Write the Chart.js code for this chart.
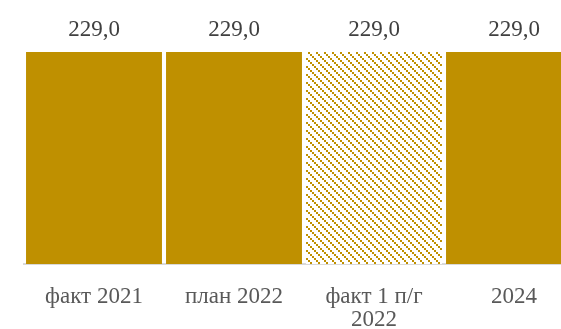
<!DOCTYPE html>
<html>
<head>
<meta charset="utf-8">
<script src="https://cdn.jsdelivr.net/npm/chart.js@4/dist/chart.umd.min.js"></script>
<style>
  html, body { margin: 0; padding: 0; background: #fff; overflow: hidden; }
  #wrap { width: 561px; height: 329px; overflow: hidden; }
</style>
</head>
<body>
<div id="wrap"><canvas id="c" width="600" height="329"></canvas></div>
<script>
  // данные
  var categories = ["факт 2021", "план 2022", ["факт 1 п/г", "2022"], "2024"];
  var values = [229.0, 229.0, 229.0, 229.0];
  var hatched = [false, false, true, false];

  var GOLD = "#BF9000";

  // штриховка для факта 1 п/г
  function makeHatch() {
    var t = document.createElement("canvas");
    t.width = 8; t.height = 8;
    var g = t.getContext("2d");
    g.fillStyle = "#ffffff";
    g.fillRect(0, 0, 8, 8);
    g.fillStyle = GOLD;
    for (var k = 0; k < 4; k++) g.fillRect(k * 2, k * 2, 2, 2);
    return g.createPattern ? document.getElementById("c").getContext("2d").createPattern(t, "repeat") : GOLD;
  }
  var hatch = makeHatch();

  function fmt(v) { return v.toFixed(1).replace(".", ","); }

  var valueLabels = {
    id: "valueLabels",
    afterDatasetsDraw: function (chart) {
      var ctx = chart.ctx;
      var meta = chart.getDatasetMeta(0);
      ctx.save();
      ctx.font = '23px "Liberation Serif", "Times New Roman", serif';
      ctx.fillStyle = "#404040";
      ctx.textAlign = "center";
      ctx.textBaseline = "alphabetic";
      meta.data.forEach(function (bar, i) {
        ctx.fillText(fmt(values[i]), bar.x, 36);
      });
      ctx.restore();
    }
  };

  new Chart(document.getElementById("c"), {
    type: "bar",
    data: {
      labels: categories,
      datasets: [{
        data: values,
        backgroundColor: values.map(function (v, i) { return hatched[i] ? hatch : GOLD; }),
        borderWidth: 0,
        barPercentage: 0.971,
        categoryPercentage: 1
      }]
    },
    options: {
      responsive: false,
      animation: false,
      layout: { padding: { left: 24, right: 16, top: 52, bottom: 0 } },
      plugins: { legend: { display: false }, tooltip: { enabled: false } },
      scales: {
        y: { display: false, min: 0, max: 229 },
        x: {
          grid: { display: false, drawTicks: false, tickLength: 0 },
          border: { display: true, color: "#d9d9d9", width: 2 },
          ticks: {
            padding: 21,
            color: "#595959",
            maxRotation: 0,
            autoSkip: false,
            font: { family: '"Liberation Serif", "Times New Roman", serif', size: 23, lineHeight: 1.0 }
          },
          afterFit: function (s) { s.height = 65; }
        }
      }
    },
    plugins: [valueLabels]
  });
</script>
</body>
</html>
